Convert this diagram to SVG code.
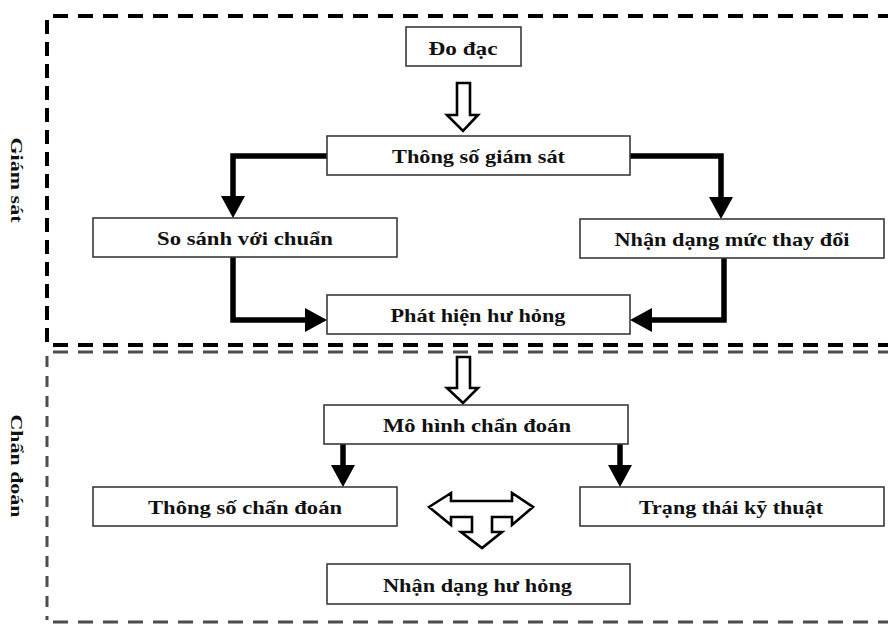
<svg xmlns="http://www.w3.org/2000/svg" width="888" height="626" viewBox="0 0 888 626">
<style>
.box{fill:#fff;stroke:#3a3a3a;stroke-width:1.6}
.t{font-family:"Liberation Serif","Times New Roman",serif;font-weight:bold;font-size:19.5px;fill:#111;text-anchor:middle}
.side{font-family:"Liberation Serif","Times New Roman",serif;font-weight:bold;font-size:17px;fill:#111;text-anchor:middle}
.con{fill:none;stroke:#000;stroke-width:5.5;marker-end:url(#ah)}
.hollow{fill:#fff;stroke:#000;stroke-width:2.6;stroke-linejoin:miter}
.dk{fill:none;stroke:#000;stroke-width:4}
.gr{fill:none;stroke:#4d4d4d;stroke-width:3}
</style>
<defs>
<marker id="ah" markerUnits="userSpaceOnUse" viewBox="0 0 22 24" markerWidth="22" markerHeight="24" refX="0" refY="12" orient="auto">
<path d="M0,0 L22,12 L0,24 Z" fill="#000"/>
</marker>
</defs>
<g id="frames">
<path class="dk" d="M53,16 H888" stroke-dasharray="15 10"/>
<path class="dk" d="M47,20 V343" stroke-dasharray="14 8"/>
<path class="dk" d="M53,345 H888" stroke-dasharray="15 10"/>
<path class="gr" d="M53,352 H888" stroke-dasharray="15 10"/>
<path class="gr" d="M47,356 V620" stroke-dasharray="11 9"/>
<path class="gr" d="M53,622 H888" stroke-dasharray="15 10"/>
</g>
<g id="label-giam-sat"><text class="side" transform="translate(11,180) rotate(90)" textLength="85" lengthAdjust="spacingAndGlyphs">Giám sát</text></g>
<g id="label-chan-doan"><text class="side" transform="translate(11,466) rotate(90)" textLength="103" lengthAdjust="spacingAndGlyphs">Chẩn đoán</text></g>
<g id="connectors">
<path class="con" d="M327,156 H233 V196"/>
<path class="con" d="M630,156 H721 V197"/>
<path class="con" d="M233,257 V320 H305"/>
<path class="con" d="M724,258 V320 H652"/>
<path class="con" d="M343,444 V465"/>
<path class="con" d="M620,444 V465"/>
<polygon class="hollow" points="457,83 470,83 470,115 478,115 463,131 447,115 457,115"/>
<polygon class="hollow" points="457,357 470,357 470,388 478,388 463,403 447,388 457,388"/>
<polygon class="hollow" points="429,507 451,493 451,501 512,501 512,493 533,507 512,525 512,517 492,517 492,532 502,532 482,548 461,532 472,532 472,517 451,517 451,525"/>
</g>
<g id="n-dodac"><rect class="box" x="406" y="27" width="115" height="39"/><text class="t" x="463" y="55" textLength="69" lengthAdjust="spacingAndGlyphs">Đo đạc</text></g>
<g id="n-thongso-gs"><rect class="box" x="327" y="136" width="303" height="39"/><text class="t" x="478.5" y="163" textLength="173" lengthAdjust="spacingAndGlyphs">Thông số giám sát</text></g>
<g id="n-sosanh"><rect class="box" x="93" y="218" width="304" height="39"/><text class="t" x="245" y="245" textLength="176" lengthAdjust="spacingAndGlyphs">So sánh với chuẩn</text></g>
<g id="n-nhandang-muc"><rect class="box" x="580" y="219" width="304" height="39"/><text class="t" x="732" y="246" textLength="235" lengthAdjust="spacingAndGlyphs">Nhận dạng mức thay đổi</text></g>
<g id="n-phathien"><rect class="box" x="327" y="295" width="303" height="39"/><text class="t" x="478" y="322" textLength="175" lengthAdjust="spacingAndGlyphs">Phát hiện hư hỏng</text></g>
<g id="n-mohinh"><rect class="box" x="324" y="405" width="304" height="39"/><text class="t" x="477" y="432" textLength="188" lengthAdjust="spacingAndGlyphs">Mô hình chẩn đoán</text></g>
<g id="n-thongso-cd"><rect class="box" x="93" y="487" width="304" height="39"/><text class="t" x="245" y="514" textLength="194" lengthAdjust="spacingAndGlyphs">Thông số chẩn đoán</text></g>
<g id="n-trangthai"><rect class="box" x="580" y="487" width="304" height="39"/><text class="t" x="731" y="514" textLength="184" lengthAdjust="spacingAndGlyphs">Trạng thái kỹ thuật</text></g>
<g id="n-nhandang-hh"><rect class="box" x="327" y="564" width="303" height="40"/><text class="t" x="477.5" y="592" textLength="189" lengthAdjust="spacingAndGlyphs">Nhận dạng hư hỏng</text></g>
</svg>
